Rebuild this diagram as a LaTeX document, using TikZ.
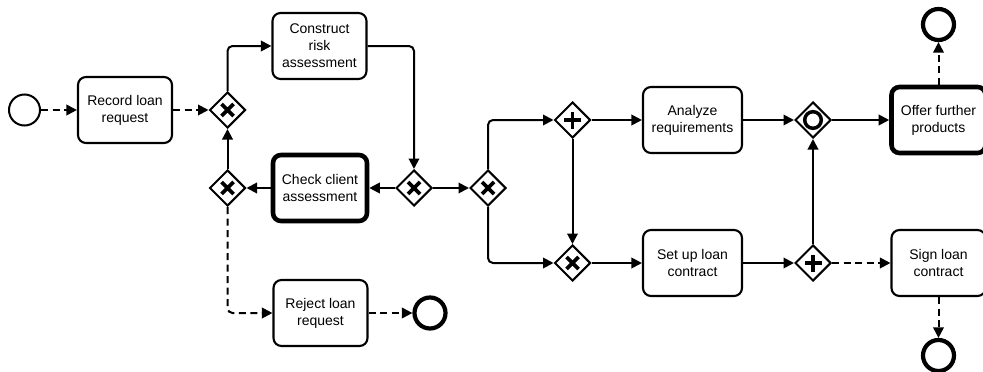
\documentclass[tikz,border=0pt]{standalone}
\usepackage{fontspec}
\setmainfont{Liberation Sans}
\usetikzlibrary{shapes.geometric,arrows.meta}
\begin{document}
\begin{tikzpicture}[x=1pt,y=-1pt,
  task/.style={draw, line width=2.1pt, rounded corners=8pt, minimum width=94pt, minimum height=66pt,
    align=center, inner sep=2pt, font=\fontsize{14}{17}\selectfont},
  widetask/.style={task, minimum width=99pt},
  thicktask/.style={task, line width=4.6pt},
  gw/.style={draw, diamond, line width=2pt, minimum width=36pt, minimum height=36pt, inner sep=0pt},
  xgw/.style={gw, path picture={
    \draw[line width=3.7pt] ([shift={(-6pt,-6pt)}]path picture bounding box.center) -- ([shift={(6pt,6pt)}]path picture bounding box.center)
      ([shift={(-6pt,6pt)}]path picture bounding box.center) -- ([shift={(6pt,-6pt)}]path picture bounding box.center);}},
  pgw/.style={gw, path picture={
    \draw[line width=3.7pt] ([shift={(-8.5pt,0pt)}]path picture bounding box.center) -- ([shift={(8.5pt,0pt)}]path picture bounding box.center)
      ([shift={(0pt,-8.5pt)}]path picture bounding box.center) -- ([shift={(0pt,8.5pt)}]path picture bounding box.center);}},
  ogw/.style={gw, path picture={
    \draw[line width=3.5pt] (path picture bounding box.center) circle[radius=8.3pt];}},
  startev/.style={circle, draw, line width=2pt, minimum size=31pt, inner sep=0pt},
  endev/.style={circle, draw, line width=4.2pt, minimum size=31pt, inner sep=0pt},
  flow/.style={line width=2pt, rounded corners=5pt, -{Triangle[length=10.5pt,width=10.5pt]}},
  dflow/.style={flow, dash pattern=on 7pt off 4.5pt}
]
\useasboundingbox (0,0) rectangle (983,372);

\node[startev] (start) at (24.5,110) {};
\node[task] (rec) at (125,110) {Record loan\\request};
\node[xgw] (g1) at (227.5,110) {};
\node[task] (cra) at (319.5,46) {Construct\\risk\\assessment};
\node[thicktask] (cca) at (320,188) {Check client\\assessment};
\node[xgw] (g2) at (227.5,188) {};
\node[task] (rej) at (320.5,313) {Reject loan\\request};
\node[endev] (end1) at (430,313) {};
\node[xgw] (g3) at (414,188) {};
\node[xgw] (g4) at (488,188) {};
\node[pgw] (g5) at (572.5,120) {};
\node[xgw] (g6) at (572.5,263) {};
\node[widetask] (ana) at (692.5,120) {Analyze\\requirements};
\node[widetask] (set) at (692.5,263) {Set up loan\\contract};
\node[ogw] (g7) at (813,120) {};
\node[pgw] (g8) at (813,263) {};
\node[thicktask] (off) at (938.5,120) {Offer further\\products};
\node[task] (sign) at (938.5,263) {Sign loan\\contract};
\node[endev] (end2) at (938.5,24.5) {};
\node[endev] (end3) at (938.5,355.5) {};

\draw[dflow] (start) -- (rec);
\draw[dflow] (rec) -- (g1);
\draw[flow] (g1.north) |- (cra.west);
\draw[flow] (cra.east) -| (g3.north);
\draw[flow] (g3.west) -- (cca.east);
\draw[flow] (cca.west) -- (g2.east);
\draw[flow] (g2.north) -- (g1.south);
\draw[dflow] (g2.south) |- (rej.west);
\draw[dflow] (rej.east) -- (end1.west);
\draw[flow] (g3.east) -- (g4.west);
\draw[flow] (g4.north) |- (g5.west);
\draw[flow] (g4.south) |- (g6.west);
\draw[flow] (g5.south) -- (g6.north);
\draw[flow] (g5.east) -- (ana.west);
\draw[flow] (g6.east) -- (set.west);
\draw[flow] (ana.east) -- (g7.west);
\draw[flow] (set.east) -- (g8.west);
\draw[flow] (g8.north) -- (g7.south);
\draw[flow] (g7.east) -- (off.west);
\draw[dflow] (g8.east) -- (sign.west);
\draw[dflow] (off.north) -- (end2.south);
\draw[dflow] (sign.south) -- (end3.north);
\end{tikzpicture}
\end{document}
